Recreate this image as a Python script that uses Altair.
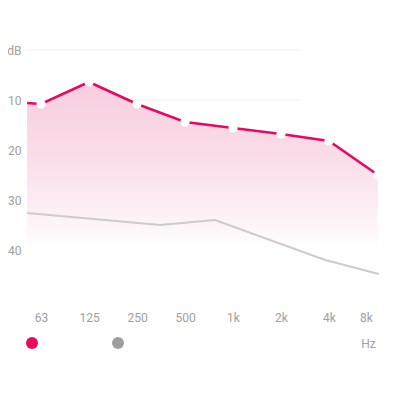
import altair as alt
import pandas as pd

# pink series (x = octave index, 63 Hz = 0)
pink_x = [-0.29, 0, 1, 2, 3, 4, 5, 6, 7.02]
pink_db = [10.6, 10.8, 6.4, 10.8, 14.4, 15.6, 16.8, 18.2, 25.0]
dot_x = [0, 1, 2, 3, 4, 5, 6, 7.02]
dot_db = [10.8, 6.4, 10.8, 14.4, 15.6, 16.8, 18.2, 25.0]
# gray series
gray_x = [-0.29, 2.48, 3.625, 5.92, 7.04]
gray_db = [32.6, 35.0, 34.0, 42.0, 44.8]
# axes
freq_labels = ["63", "125", "250", "500", "1k", "2k", "4k", "8k"]
freq_pos = [0, 1, 2, 3, 4, 5, 6, 6.77]
db_ticks = [0, 10, 20, 30, 40]
grid_db = [0, 10, 20, 30]
grid_start = -0.29
grid_end = 5.4
area_floor = 40
series = ["left", "right"]
series_colors = ["#e8085f", "#9e9e9e"]

PINK = "#e8085f"
GRAY_LINE = "#cccccc"
LABEL = "#a0a0a0"

pink_df = pd.DataFrame({"x": pink_x, "db": pink_db, "floor": [area_floor] * len(pink_x)})
dot_df = pd.DataFrame({"x": dot_x, "db": dot_db})
gray_df = pd.DataFrame({"x": gray_x, "db": gray_db})
grid_df = pd.DataFrame({"db": grid_db, "x0": [grid_start] * len(grid_db), "x1": [grid_end] * len(grid_db)})
leg_df = pd.DataFrame({"s": series, "x": [0, 0], "db": [0, 0]})

xscale = alt.Scale(domain=[-0.2917, 7.0625], nice=False, zero=False)
yscale = alt.Scale(domain=[-4, 50], reverse=True, nice=False, zero=False)

lbl_arr = "[" + ",".join("'%s'" % l for l in freq_labels) + "]"
pos_arr = "[" + ",".join(str(p) for p in freq_pos) + "]"

x_axis = alt.Axis(
    values=freq_pos,
    labelExpr=f"{lbl_arr}[indexof({pos_arr}, datum.value)]",
    ticks=False, domain=False, grid=False,
    labelPadding=12, labelColor=LABEL, labelFontSize=12, labelFont="Roboto",
    labelFlush=False, labelOverlap=False,
    title="Hz", titleX=341, titleY=43, titleAlign="center", titleBaseline="middle",
    titleColor=LABEL, titleFontSize=12, titleFont="Roboto", titleFontWeight="normal",
)
y_axis = alt.Axis(
    values=db_ticks,
    labelExpr="datum.value == 0 ? 'dB' : datum.label",
    ticks=False, domain=False, grid=False,
    labelPadding=6, labelColor=LABEL, labelFontSize=12, labelFont="Roboto",
    labelFlush=False, labelOverlap=False, title=None,
)

grid = alt.Chart(grid_df).mark_rule(color="#f0f0f0", strokeWidth=1).encode(
    x=alt.X("x0:Q", scale=xscale, axis=x_axis),
    x2="x1:Q",
    y=alt.Y("db:Q", scale=yscale, axis=y_axis),
)

area = alt.Chart(pink_df).mark_area(
    clip=True,
    color=alt.Gradient(
        gradient="linear",
        stops=[
            alt.GradientStop(color="#f8cddf", offset=0),
            alt.GradientStop(color="#fadde9", offset=0.45),
            alt.GradientStop(color="#fdeef4", offset=0.75),
            alt.GradientStop(color="#ffffff", offset=1),
        ],
        x1=0, x2=0, y1=0, y2=1,
    ),
).encode(
    x=alt.X("x:Q", scale=xscale),
    y=alt.Y("db:Q", scale=yscale),
    y2="floor:Q",
)

pink_line = alt.Chart(pink_df).mark_line(color=PINK, strokeWidth=2.5, clip=True).encode(
    x=alt.X("x:Q", scale=xscale),
    y=alt.Y("db:Q", scale=yscale),
)

dots = alt.Chart(dot_df).mark_point(filled=True, color="white", opacity=1, size=85, clip=True).encode(
    x=alt.X("x:Q", scale=xscale),
    y=alt.Y("db:Q", scale=yscale),
)

gray_line = alt.Chart(gray_df).mark_line(color=GRAY_LINE, strokeWidth=2, clip=True).encode(
    x=alt.X("x:Q", scale=xscale),
    y=alt.Y("db:Q", scale=yscale),
)

legend_layer = alt.Chart(leg_df).mark_point(filled=True, opacity=0).encode(
    x=alt.X("x:Q", scale=xscale),
    y=alt.Y("db:Q", scale=yscale),
    color=alt.Color(
        "s:N",
        scale=alt.Scale(domain=series, range=series_colors),
        legend=alt.Legend(
            orient="none", legendX=-1, legendY=307, direction="horizontal",
            title=None, labelExpr="''", symbolType="circle", symbolSize=144,
            symbolOpacity=1, symbolStrokeWidth=0, labelOffset=0, columnPadding=74,
            padding=0, offset=0,
        ),
    ),
)

chart = alt.layer(grid, area, pink_line, dots, gray_line, legend_layer).properties(
    width=353, height=270,
    autosize=alt.AutoSizeParams(type="none"),
    padding={"left": 19, "top": 22, "right": 12, "bottom": 60},
    background="white",
).configure_view(stroke=None, strokeWidth=0)

chart.save("out.html", embed_options={"renderer": "svg", "actions": False})
